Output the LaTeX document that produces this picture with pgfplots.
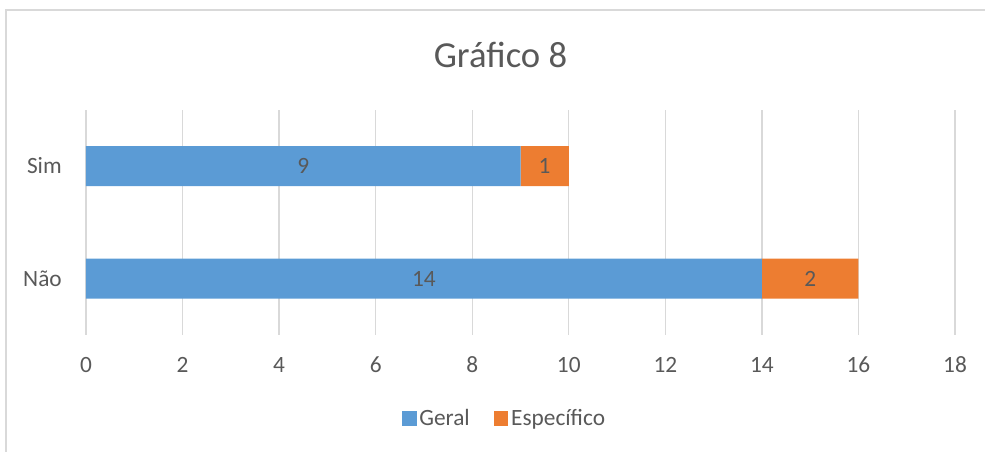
\documentclass[border=0pt]{standalone}
\usepackage{pgfplots}
\pgfplotsset{compat=1.18}
\usepackage{fontspec}
\setmainfont{Carlito}
\definecolor{geral}{HTML}{5B9BD5}
\definecolor{espec}{HTML}{ED7D31}
\definecolor{txt}{HTML}{595959}
\definecolor{grd}{HTML}{D9D9D9}
\begin{document}
\begin{tikzpicture}[x=0.75pt,y=0.75pt]
\useasboundingbox (0,0) rectangle (985,452);
\draw[grd, line width=1.5pt] (6,0) -- (6,442) -- (985,442);
\node[text=txt, font=\fontsize{27.5}{32}\selectfont, anchor=center] at (500.5,397) {Gráfico 8};
\begin{axis}[
  at={(64.5pt,87.75pt)}, anchor=south west, scale only axis,
  width=651.75pt, height=168.75pt,
  xbar stacked, bar width=30pt,
  xmin=0, xmax=18, ymin=-0.5, ymax=1.5,
  xtick={0,2,...,18}, ytick={0,1}, yticklabels={Não,Sim},
  xmajorgrids, major grid style={grd, line width=1pt},
  axis line style={draw=none}, tick style={draw=none},
  /pgf/number format/assume math mode=true,
  ticklabel style={font=\fontsize{17.5}{20}\selectfont, text=txt, inner sep=0pt},
  xticklabel style={anchor=base, yshift=-28.5pt},
  yticklabel style={anchor=base east, xshift=-18pt, yshift=-5.6pt},
  point meta=explicit,
  nodes near coords,
  nodes near coords style={anchor=center, text=txt, font=\fontsize{17.5}{20}\selectfont},
  legend style={at={(0.482,-0.369)}, anchor=center, legend columns=2, draw=none,
    font=\fontsize{17.5}{20}\selectfont, text=txt,
    /tikz/every even column/.append style={column sep=16pt}},
  legend image code/.code={\fill[#1] (0pt,-6pt) rectangle (11pt,5pt);},
]
\addplot[fill=geral, draw=none] coordinates {(14,0) [14] (9,1) [9]};
\addplot[fill=espec, draw=none] coordinates {(2,0) [2] (1,1) [1]};
\legend{Geral, Específico}
\end{axis}
\end{tikzpicture}
\end{document}
